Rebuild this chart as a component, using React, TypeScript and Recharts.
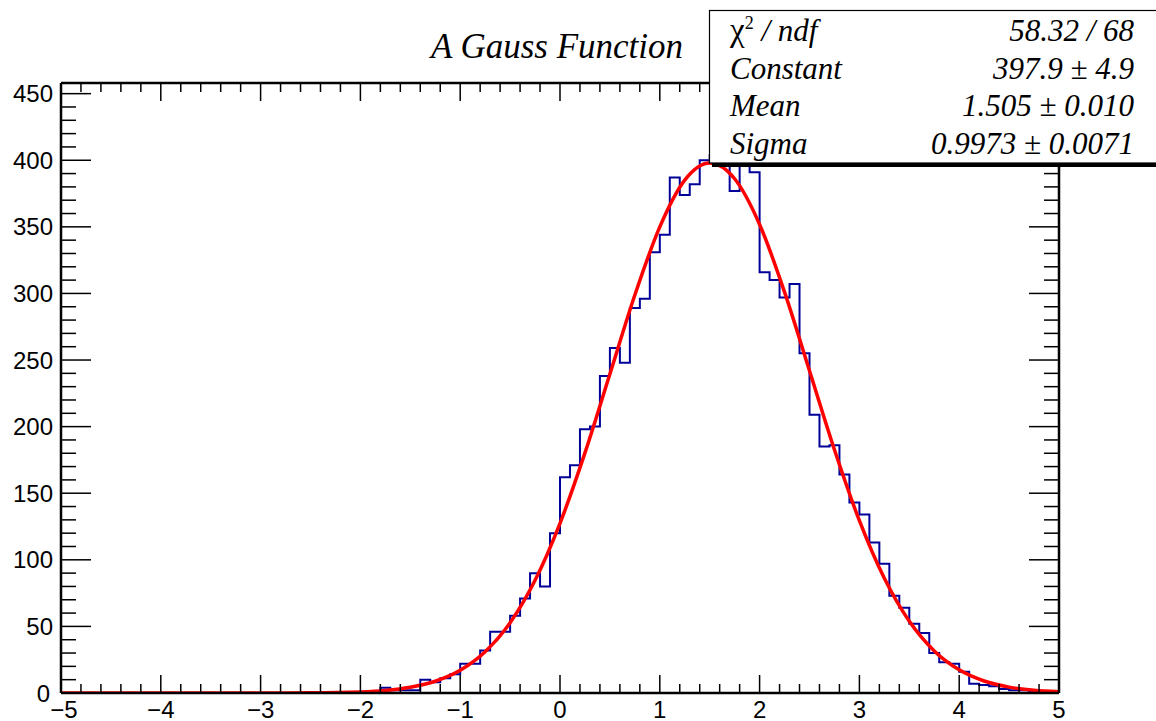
import { ComposedChart, Line, XAxis, YAxis } from "recharts";

// histogram: 100 bins from -5 to 5
const histMin = -5;
const binWidth = 0.1;
const binCounts = [
    // -5.0 .. -2.1
    0, 0, 0, 0, 0, 0, 0, 0, 0, 0,
    0, 0, 0, 0, 0, 0, 0, 0, 0, 0,
    0, 0, 0, 0, 0, 0, 0, 0, 0, 0,
    // -2.0 .. -1.1
    1, 1, 4, 2, 2, 2, 10, 8, 11, 14,
    // -1.0 .. -0.1
    22, 22, 32, 46, 46, 58, 71, 90, 80, 120,
    // 0.0 .. 0.9
    162, 171, 198, 200, 238, 259, 248, 289, 296, 331,
    // 1.0 .. 1.9
    344, 387, 374, 382, 400, 404, 399, 377, 401, 391,
    // 2.0 .. 2.9
    316, 310, 297, 307, 255, 209, 185, 186, 164, 143,
    // 3.0 .. 3.9
    134, 113, 97, 73, 64, 52, 45, 30, 23, 22,
    // 4.0 .. 4.9
    16, 7, 6, 5, 3, 2, 2, 1, 1, 0
];

// red fit curve
const fitX = [
    -5, -4.5, -4, -3.5, -3, -2.5, -2, -1.75, -1.5, -1.25,
    -1, -0.75, -0.5, -0.25, 0, 0.25, 0.5, 0.75, 1, 1.25,
    1.5, 1.75, 2, 2.25, 2.5, 2.75, 3, 3.25, 3.5, 3.75,
    4, 4.25, 4.5, 4.75, 5
];
const fitY = [
    0, 0, 0, 0, 0, 0.1, 0.8, 1.9, 4.3, 8.8,
    17, 30.9, 52.7, 84.6, 127.4, 180.3, 239.5, 298.8, 350, 385.1,
    397.9, 386.1, 351.8, 301, 241.9, 182.6, 129.4, 86.1, 53.8, 31.6,
    17.4, 9, 4.4, 2, 0.9
];

const xTicks = [
    -5, -4.8, -4.6, -4.4, -4.2, -4, -3.8, -3.6, -3.4, -3.2,
    -3, -2.8, -2.6, -2.4, -2.2, -2, -1.8, -1.6, -1.4, -1.2,
    -1, -0.8, -0.6, -0.4, -0.2, 0, 0.2, 0.4, 0.6, 0.8,
    1, 1.2, 1.4, 1.6, 1.8, 2, 2.2, 2.4, 2.6, 2.8,
    3, 3.2, 3.4, 3.6, 3.8, 4, 4.2, 4.4, 4.6, 4.8, 5
];
const yTicks = [
    0, 10, 20, 30, 40, 50, 60, 70, 80, 90,
    100, 110, 120, 130, 140, 150, 160, 170, 180, 190,
    200, 210, 220, 230, 240, 250, 260, 270, 280, 290,
    300, 310, 320, 330, 340, 350, 360, 370, 380, 390,
    400, 410, 420, 430, 440, 450
];
const xMajorStep = 1;
const yMajorStep = 50;

const statLabels = ["Constant", "Mean", "Sigma"];
const statValues = ["397.9 \u00b1 4.9", "1.505 \u00b1 0.010", "0.9973 \u00b1 0.0071"];
const chi2Value = "58.32 / 68";

const histData = binCounts
    .map((c, i) => ({ x: histMin + i * binWidth, y: c }))
    .concat([{ x: histMin + binCounts.length * binWidth, y: binCounts[binCounts.length - 1] }]);
const fitData = fitX.map((x, i) => ({ x, y: fitY[i] }));

const W = 1156;
const H = 721;
const SANS = "'Liberation Sans', Arial, sans-serif";
const SERIF = "'Liberation Serif', 'Times New Roman', serif";

const isMajor = (v: number, step: number) =>
    Math.abs(v / step - Math.round(v / step)) < 1e-6;

const fmt = (v: number) => (v < 0 ? "\u2212" + Math.abs(v) : String(v));

const BottomTick = (p: any) => {
    const v = p.payload.value;
    const major = isMajor(v, xMajorStep);
    // first label nudged so it clears the "0" of the y axis
    const dx = v === xTicks[0] ? 3 : 0;
    return (
        <g>
            <line x1={p.x} x2={p.x} y1={p.y} y2={p.y - (major ? 18 : 9)} stroke="#000" strokeWidth={1.5} />
            {major && (
                <text x={p.x + dx} y={p.y + 16} textAnchor="middle" dominantBaseline="central"
                    fontFamily={SANS} fontSize={24} fill="#000">
                    {fmt(v)}
                </text>
            )}
        </g>
    );
};

const TopTick = (p: any) => {
    const major = isMajor(p.payload.value, xMajorStep);
    return <line x1={p.x} x2={p.x} y1={p.y} y2={p.y + (major ? 18 : 9)} stroke="#000" strokeWidth={1.5} />;
};

const LeftTick = (p: any) => {
    const v = p.payload.value;
    const major = isMajor(v, yMajorStep);
    const gap = v === 0 ? 11 : 8;
    return (
        <g>
            <line x1={p.x} x2={p.x + (major ? 30 : 15)} y1={p.y} y2={p.y} stroke="#000" strokeWidth={1.5} />
            {major && (
                <text x={p.x - gap} y={p.y} textAnchor="end" dominantBaseline="central"
                    fontFamily={SANS} fontSize={24} fill="#000">
                    {fmt(v)}
                </text>
            )}
        </g>
    );
};

const RightTick = (p: any) => {
    const major = isMajor(p.payload.value, yMajorStep);
    return <line x1={p.x} x2={p.x - (major ? 30 : 15)} y1={p.y} y2={p.y} stroke="#000" strokeWidth={1.5} />;
};

const axisLine = { stroke: "#000", strokeWidth: 2.5 };

export default function App() {
    return (
        <div style={{ position: "absolute", left: 0, top: 0, width: W, height: H, background: "#fff" }}>
            <ComposedChart width={W} height={H} margin={{ top: 82, right: 96, bottom: 27, left: 60 }}>
                <XAxis
                    type="number" dataKey="x" domain={[-5, 5]} allowDataOverflow
                    ticks={xTicks} interval={0} tickSize={0} tickMargin={0} height={1}
                    tickLine={false} axisLine={axisLine} tick={BottomTick}
                />
                <XAxis
                    xAxisId="top" orientation="top" type="number" dataKey="x" domain={[-5, 5]} allowDataOverflow
                    ticks={xTicks} interval={0} tickSize={0} tickMargin={0} height={1}
                    tickLine={false} axisLine={axisLine} tick={TopTick}
                />
                <YAxis
                    type="number" domain={[0, 458]} allowDataOverflow
                    ticks={yTicks} interval={0} tickSize={0} tickMargin={0} width={1}
                    tickLine={false} axisLine={axisLine} tick={LeftTick}
                />
                <YAxis
                    yAxisId="right" orientation="right" type="number" domain={[0, 458]} allowDataOverflow
                    ticks={yTicks} interval={0} tickSize={0} tickMargin={0} width={1}
                    tickLine={false} axisLine={axisLine} tick={RightTick}
                />
                <Line
                    data={histData} dataKey="y" type="stepAfter" stroke="#000099"
                    strokeWidth={2} dot={false} activeDot={false} isAnimationActive={false}
                />
                <Line
                    data={fitData} dataKey="y" type="monotone" stroke="#ff0000"
                    strokeWidth={3.5} dot={false} activeDot={false} isAnimationActive={false}
                />
            </ComposedChart>

            {/* title + stats box on top */}
            <svg width={W} height={H} style={{ position: "absolute", left: 0, top: 0, pointerEvents: "none" }}>
                <text x={557} y={58} textAnchor="middle" fontFamily={SERIF} fontStyle="italic" fontSize={35} fill="#000">
                    A Gauss Function
                </text>

                <rect x={712} y={163} width={460} height={4} fill="#000" />
                <rect x={709.5} y={10.5} width={460} height={152.5} fill="#fff" stroke="#000" strokeWidth={1.2} />

                <text x={730} y={41} fontFamily={SERIF} fontSize={31} fill="#000">
                    <tspan fontSize={33}>{"\u03c7"}</tspan>
                    <tspan fontSize={18} dy={-12}>2</tspan>
                    <tspan fontStyle="italic" dy={12}>{" / ndf"}</tspan>
                </text>
                <text x={1134} y={41} textAnchor="end" fontFamily={SERIF} fontStyle="italic" fontSize={31} fill="#000">
                    {chi2Value}
                </text>
                {statLabels.map((label, i) => (
                    <g key={label}>
                        <text x={730} y={79 + i * 37.3} fontFamily={SERIF} fontStyle="italic" fontSize={31} fill="#000">
                            {label}
                        </text>
                        <text x={1134} y={79 + i * 37.3} textAnchor="end" fontFamily={SERIF} fontStyle="italic" fontSize={31} fill="#000">
                            {statValues[i]}
                        </text>
                    </g>
                ))}
            </svg>
        </div>
    );
}
